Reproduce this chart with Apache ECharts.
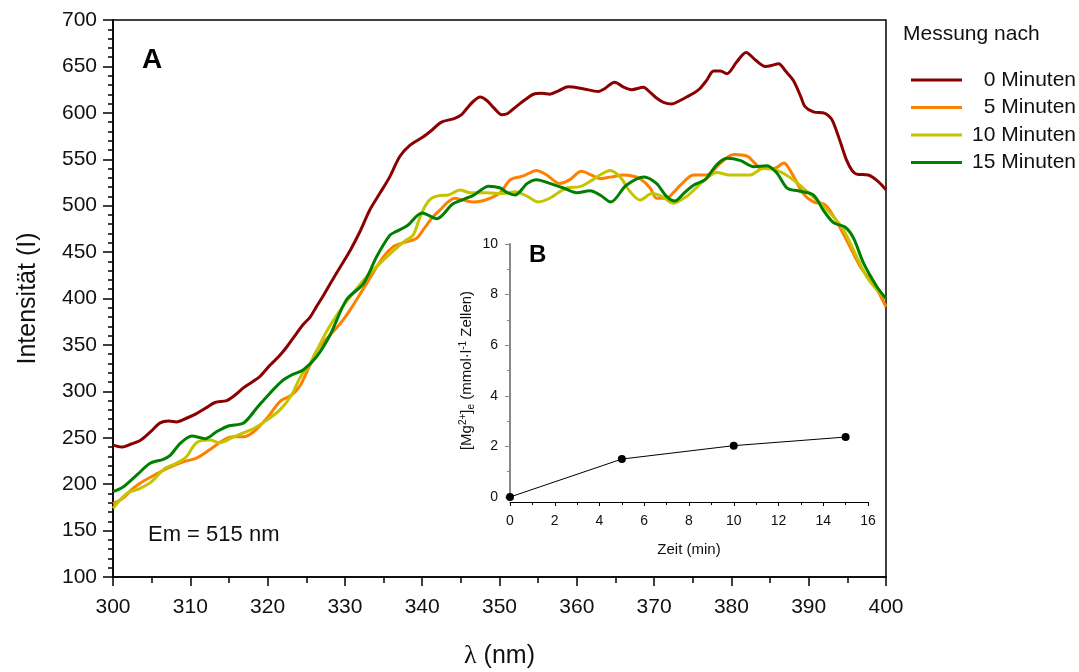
<!DOCTYPE html>
<html>
<head>
<meta charset="utf-8">
<script src="https://cdn.jsdelivr.net/npm/echarts@6/dist/echarts.min.js"></script>
<style>
html,body{margin:0;padding:0;background:#fff;}
#c{width:1079px;height:672px;}
</style>
</head>
<body>
<div id="c"></div>
<script>
// Main spectra: [wavelength nm, intensity]
const min0 = [[300,242],[301.1,240],[302.3,243],[303.5,247],[304.8,256],[306.1,266],[307.2,268],[308.2,267],[309.5,271],[310.8,276],[312,282],[313.2,288],[314.7,290],[315.8,296],[316.9,304],[318,310],[319,316],[320.3,328],[321.5,338],[322.5,348],[323.8,363],[324.6,372],[325.5,380],[326.3,391],[327.2,403],[328.1,416],[329.4,434],[330.7,452],[332,473],[333.2,495],[334.5,513],[335.8,531],[337.1,553],[338.4,565],[340.1,574],[341.2,581],[342.5,590],[344.2,594],[345.1,598],[345.8,605],[346.7,613],[347.5,617],[348.4,613],[349.3,605],[350.3,598],[351,599],[352.2,607],[353.3,614],[354.4,620],[355.5,621],[356.5,620],[357.7,624],[358.9,628],[360.8,626],[362.8,623],[363.6,626],[364.9,633],[366,628],[367.1,625],[368.6,627.5],[369.5,622],[370.3,616],[371.3,611],[372.3,609.5],[373.3,613],[374.2,617],[375.1,621],[375.9,626],[376.8,635],[377.7,645],[378.6,645],[379.4,642],[380.7,655],[381.9,665],[383.1,657],[384.4,650],[385.2,651],[386.1,653],[387,645],[388,635],[389,617],[389.5,607],[390.6,601],[392.1,599.5],[392.9,594],[393.4,585],[394.2,566],[394.9,549],[395.6,538],[396.2,534],[397.7,533],[399,526],[400,517]];
const min5 = [[300,179],[301.3,185],[302.4,194],[303.5,201],[305.2,209],[307,217],[309.1,224],[310.8,228],[312.5,237],[314.3,247.6],[315.6,251],[316.9,251],[318.2,256.5],[319.9,271],[321.6,289],[323.1,296],[324.2,306],[325.3,325],[326.4,344.5],[328.1,361],[329.4,373],[330.7,388],[332.8,416],[335,445],[336.3,456],[337.5,460],[338.4,462],[339.3,465],[340.3,476],[341.4,488],[342.5,497],[343.2,503],[344.2,508],[345.3,506],[346.6,504],[347.7,505],[348.8,508],[350.1,514],[351.4,528],[353.1,532],[354.8,538],[356.1,533],[357.8,524],[359.1,528],[360.6,537],[361.9,533],[363,529],[364.5,531],[366,533],[367.2,532],[368.2,529],[369.5,519],[370.3,508],[371.6,508],[372.5,514],[373.4,522],[375.1,533],[376.8,533],[378.6,546],[380.3,555],[382.1,553],[383,546],[383.8,540],[385.5,540],[386.8,546],[387.8,535],[389.3,513],[390.6,504],[392.1,501],[393.4,486],[394.9,463],[396.7,434],[398.6,413],[400,391]];
const min10 = [[300,174],[301.8,190],[303.5,195.5],[305,202.7],[306.7,217],[308.2,222.5],[309.5,229.6],[310.8,244.7],[312.5,247.6],[313.8,244.7],[315.6,251],[316.9,255.4],[318.2,260],[319.9,269],[321.6,280],[323.1,296],[324.2,315],[325.5,330],[327.6,364],[329.2,385],[330.7,402],[332.8,423.5],[335,441.5],[337.6,461],[338.8,468],[339.6,485],[340.4,500],[341.2,508],[342.3,511],[343.4,511.5],[344.9,517],[346.2,514],[348.3,514],[350.5,513],[352,515],[353.6,510],[355,504],[356.5,508],[357.6,514],[358.7,519],[360.4,520.5],[361.7,526],[363,533],[364.3,538],[365.6,531],[366.9,515],[368.2,506],[369.7,513],[371,510],[372.5,502.6],[374.2,510],[375.3,518],[376.3,526],[378.1,535.7],[379.8,533],[382.4,533],[384.1,540],[385.9,538],[388,528],[389.8,515],[391.5,502.6],[393.2,488],[394.5,474],[396.2,445],[397.5,423.5],[399.2,405.6],[400,400]];
const min15 = [[300,192],[301.3,197],[303.1,210],[304.8,222.5],[306.5,226.8],[307.4,231],[308.7,244],[310.2,252],[311.9,249],[313.4,256.5],[314.9,262.7],[316.9,266],[318.6,282],[320.3,298],[322,312],[323.2,318],[324.6,323],[326.3,337],[328.1,361],[330.2,398.6],[332.4,416],[334.1,445],[335.8,468],[336.6,472],[338,478],[340,492],[341.9,486],[344,502],[346.6,511],[348.6,521],[350.1,519],[351,514],[352,511.5],[353.6,524],[354.8,528],[356.5,524],[358.3,519],[360,514],[361.7,516],[363,511.5],[364.4,504],[366.4,522],[368.7,531],[370.3,524],[371.6,510],[372.7,505],[373.8,513],[375.1,522],[376.6,528],[378.1,544],[379.4,551],[381.2,548.5],[382.9,542],[384.6,543],[385.9,535],[387.2,519],[388.6,516],[390.6,511.5],[391.9,495],[393.2,481.7],[394.7,477],[395.8,465],[397.1,438],[398.8,413],[400,400]];

const seriesNames = ['0 Minuten', '5 Minuten', '10 Minuten', '15 Minuten'];
const seriesColors = ['#8B0000', '#FF8000', '#C4C400', '#008000'];

// Inset B
const insetTimes = [0, 5, 10, 15];
const insetMg = [0, 1.5, 2.03, 2.37];

const FONT = 'Liberation Sans, Arial, sans-serif';
const chart = echarts.init(document.getElementById('c'), null, {renderer: 'canvas'});

const spectra = [min0, min5, min10, min15];

const option = {
  animation: false,
  backgroundColor: '#fff',
  textStyle: {fontFamily: FONT},
  grid: [
    {left: 113, top: 20, right: 193, bottom: 95, outerBoundsMode: 'none', containLabel: false,
     show: true, borderColor: '#000', borderWidth: 1.5, backgroundColor: 'transparent'},
    {left: 510, top: 244, right: 211, bottom: 175, outerBoundsMode: 'none', containLabel: false}
  ],
  xAxis: [
    {
      gridIndex: 0, type: 'value', min: 300, max: 400, interval: 10,
      name: '{l|λ} (nm)', nameLocation: 'middle', nameGap: 66,
      nameTextStyle: {fontSize: 25, color: '#111', fontFamily: FONT,
        rich: {l: {fontSize: 26, fontFamily: 'Liberation Serif, DejaVu Serif, serif', color: '#111'}}},
      axisLine: {lineStyle: {color: '#000', width: 1.5}},
      axisTick: {length: 9, lineStyle: {color: '#000', width: 1.5}},
      minorTick: {show: true, splitNumber: 2, length: 6, lineStyle: {color: '#000', width: 1.5}},
      axisLabel: {fontSize: 21, color: '#111', margin: 20},
      splitLine: {show: false}
    },
    {
      gridIndex: 1, type: 'value', min: 0, max: 16, interval: 2, offset: 5,
      name: 'Zeit (min)', nameLocation: 'middle', nameGap: 40,
      nameTextStyle: {fontSize: 15, color: '#111'},
      axisLine: {onZero: false, lineStyle: {color: '#000', width: 1.2}},
      axisTick: {length: 4, lineStyle: {color: '#000'}},
      minorTick: {show: true, splitNumber: 2, length: 3, lineStyle: {color: '#000'}},
      axisLabel: {fontSize: 14, color: '#111', margin: 12},
      splitLine: {show: false}
    }
  ],
  yAxis: [
    {
      gridIndex: 0, type: 'value', min: 100, max: 700, interval: 50,
      name: 'Intensität (I)', nameLocation: 'middle', nameGap: 72,
      nameTextStyle: {fontSize: 25, color: '#111'},
      axisLine: {lineStyle: {color: '#000', width: 1.5}},
      axisTick: {length: 10, lineStyle: {color: '#000', width: 1.5}},
      minorTick: {show: true, splitNumber: 5, length: 5, lineStyle: {color: '#000', width: 1.5}},
      axisLabel: {fontSize: 21, color: '#111', margin: 16},
      splitLine: {show: false}
    },
    {
      gridIndex: 1, type: 'value', min: 0, max: 10, interval: 2,
      name: '[Mg{sup|2+}]{sub|e} (mmol·l{sup|-1} Zellen)', nameLocation: 'middle', nameGap: 34,
      nameTextStyle: {fontSize: 15, color: '#111',
        rich: {
          sup: {fontSize: 10, verticalAlign: 'top', color: '#111', lineHeight: 18},
          sub: {fontSize: 10, verticalAlign: 'bottom', color: '#111', lineHeight: 18}
        }},
      axisLine: {lineStyle: {color: '#888', width: 2}},
      axisTick: {length: 5, lineStyle: {color: '#888'}},
      minorTick: {show: true, splitNumber: 2, length: 3, lineStyle: {color: '#888'}},
      axisLabel: {fontSize: 14, color: '#111', margin: 12},
      splitLine: {show: false}
    }
  ],
  legend: {
    orient: 'vertical', left: 906, top: 64,
    itemWidth: 51, itemHeight: 3, itemGap: 5.5,
    icon: 'rect',
    data: seriesNames,
    formatter: function (n) { return '{a|' + n + '}'; },
    textStyle: {fontSize: 21, color: '#111', lineHeight: 22,
      rich: {a: {width: 109, align: 'right', fontSize: 21, color: '#111', lineHeight: 22}}}
  },
  graphic: [
    {type: 'text', left: 903, top: 24, style: {text: 'Messung nach', font: '21px ' + FONT, fill: '#111'}},
    {type: 'text', left: 142, top: 46, style: {text: 'A', font: 'bold 28px ' + FONT, fill: '#000'}},
    {type: 'text', left: 148, top: 524, style: {text: 'Em = 515 nm', font: '22px ' + FONT, fill: '#111'}},
    {type: 'text', left: 529, top: 243, style: {text: 'B', font: 'bold 24px ' + FONT, fill: '#000'}}
  ],
  series: spectra.map(function (d, i) {
    return {
      name: seriesNames[i], type: 'line', xAxisIndex: 0, yAxisIndex: 0,
      data: d, smooth: 0.3, symbol: 'none',
      lineStyle: {color: seriesColors[i], width: 3},
      itemStyle: {color: seriesColors[i]}
    };
  }).concat([{
    name: 'Mg', type: 'line', xAxisIndex: 1, yAxisIndex: 1,
    data: insetTimes.map(function (t, i) { return [t, insetMg[i]]; }),
    symbol: 'circle', symbolSize: 8,
    lineStyle: {color: '#000', width: 1},
    itemStyle: {color: '#000'}
  }])
};
chart.setOption(option);
</script>
</body>
</html>
